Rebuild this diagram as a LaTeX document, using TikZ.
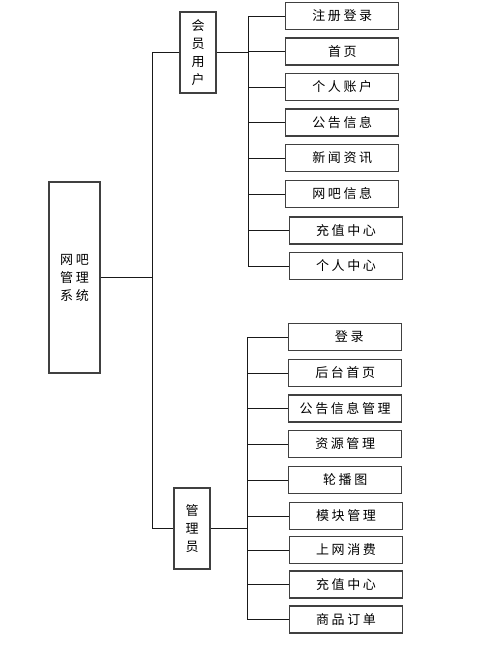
\documentclass[tikz,border=0pt]{standalone}
\usepackage{fontspec}
\setmainfont{Noto Sans CJK SC}[LetterSpace=20]
\usepackage{tikz}
\usetikzlibrary{positioning,calc}

\begin{document}
\begin{tikzpicture}[x=1pt, y=-1pt,
    box/.style={draw=black!75, line width=1.2pt, fill=white, inner sep=0pt,
                font=\fontsize{13}{18}\selectfont, align=center},
    rootbox/.style={box, minimum width=51pt, minimum height=191pt},
    midbox/.style={box, minimum width=36pt, minimum height=81pt},
    leaf/.style={box, minimum width=113pt, minimum height=27pt},
    link/.style={draw=black!90, line width=0.9pt}]
    \useasboundingbox (0,0) rectangle (488,653);

    % Nodes
    \node[rootbox] (sys) at (74.5, 277.5) {网吧\\管理\\系统};
    \node[midbox] (mem) at (198, 52.5) {会\\员\\用\\户};
    \node[midbox] (adm) at (192, 528.5) {管\\理\\员};

    % member leaves
    \node[leaf] (m1) at (342.3, 16) {注册登录};
    \node[leaf] (m2) at (342.3, 51.5) {首页};
    \node[leaf] (m3) at (342.3, 87) {个人账户};
    \node[leaf] (m4) at (342.3, 122.5) {公告信息};
    \node[leaf] (m5) at (342.3, 158) {新闻资讯};
    \node[leaf] (m6) at (342.3, 194) {网吧信息};
    \node[leaf] (m7) at (346, 230.5) {充值中心};
    \node[leaf] (m8) at (346, 266) {个人中心};

    % admin leaves
    \node[leaf] (a1) at (345.2, 337) {\hspace{8pt}登录};
    \node[leaf] (a2) at (345.2, 373) {后台首页};
    \node[leaf] (a3) at (345.2, 408.5) {公告信息管理};
    \node[leaf] (a4) at (345.2, 444) {资源管理};
    \node[leaf] (a5) at (345.2, 480) {轮播图};
    \node[leaf] (a6) at (346, 516) {模块管理};
    \node[leaf] (a7) at (346, 550) {上网消费};
    \node[leaf] (a8) at (346, 584.5) {充值中心};
    \node[leaf] (a9) at (346, 619.5) {商品订单};

    % Buses
    \coordinate (trunk) at (152.5, 0);
    \coordinate (busA) at (248, 0);
    \coordinate (busB) at (247.5, 0);

    % Root to the two groups
    \draw[link] (sys.east) -- (sys.east -| trunk);
    \draw[link] (mem.west) -- (mem.west -| trunk) -- (adm.west -| trunk) -- (adm.west);

    % member branch
    \draw[link] (mem.east) -- (mem.east -| busA);
    \draw[link] (m1.west -| busA) -- (m8.west -| busA);
    \draw[link] (m1.west -| busA) -- (m1.west);
    \draw[link] (m2.west -| busA) -- (m2.west);
    \draw[link] (m3.west -| busA) -- (m3.west);
    \draw[link] (m4.west -| busA) -- (m4.west);
    \draw[link] (m5.west -| busA) -- (m5.west);
    \draw[link] (m6.west -| busA) -- (m6.west);
    \draw[link] (m7.west -| busA) -- (m7.west);
    \draw[link] (m8.west -| busA) -- (m8.west);

    % admin branch
    \draw[link] (adm.east) -- (adm.east -| busB);
    \draw[link] (a1.west -| busB) -- (a9.west -| busB);
    \draw[link] (a1.west -| busB) -- (a1.west);
    \draw[link] (a2.west -| busB) -- (a2.west);
    \draw[link] (a3.west -| busB) -- (a3.west);
    \draw[link] (a4.west -| busB) -- (a4.west);
    \draw[link] (a5.west -| busB) -- (a5.west);
    \draw[link] (a6.west -| busB) -- (a6.west);
    \draw[link] (a7.west -| busB) -- (a7.west);
    \draw[link] (a8.west -| busB) -- (a8.west);
    \draw[link] (a9.west -| busB) -- (a9.west);
\end{tikzpicture}
\end{document}
